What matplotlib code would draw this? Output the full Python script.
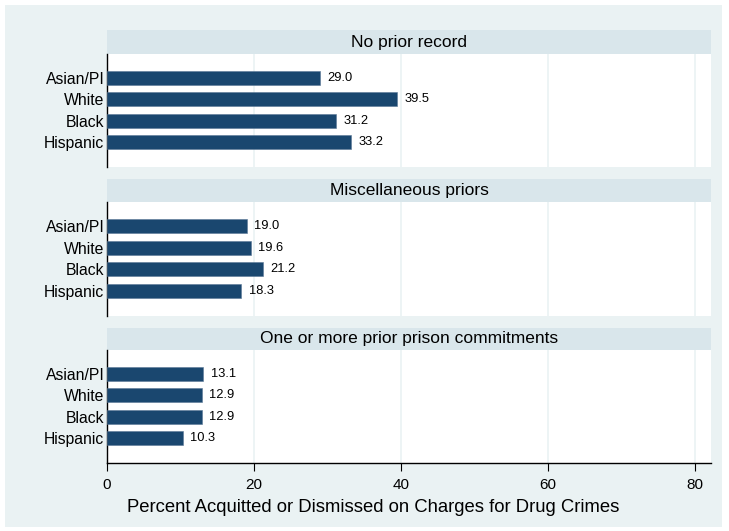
import numpy as np
import matplotlib.pyplot as plt
from matplotlib.patches import Rectangle

plt.rcParams["font.family"] = ["Liberation Sans", "DejaVu Sans"]

panels = ["No prior record", "Miscellaneous priors", "One or more prior prison commitments"]
groups = ["Asian/PI", "White", "Black", "Hispanic"]
no_prior = [29.0, 39.5, 31.2, 33.2]
misc_prior = [19.0, 19.6, 21.2, 18.3]
prison_prior = [13.1, 12.9, 12.9, 10.3]
values = [no_prior, misc_prior, prison_prior]

bg = "#EAF2F3"
strip = "#D9E6EB"
bar_col = "#1A476F"

W, H = 729, 531
fig = plt.figure(figsize=(W / 100, H / 100), dpi=100, facecolor="white")
fig.patches.append(Rectangle((5 / W, 4 / H), 717 / W, 522 / H, transform=fig.transFigure,
                             facecolor=bg, edgecolor="none", zorder=-10))

# pixel boxes: (strip_top, plot_top, plot_bottom)
boxes = [(30, 54, 167), (179, 202, 316), (328, 350, 463)]
left, right = 107, 711

for i, (st, pt, pb) in enumerate(boxes):
    # strip header
    sax = fig.add_axes([left / W, 1 - pt / H, (right - left) / W, (pt - st) / H])
    sax.set_facecolor(strip)
    for s in sax.spines.values():
        s.set_visible(False)
    sax.set_xticks([])
    sax.set_yticks([])
    sax.text(0.5, 0.5, panels[i], ha="center", va="center", fontsize=12.5, color="black",
             transform=sax.transAxes)

    ax = fig.add_axes([left / W, 1 - pb / H, (right - left) / W, (pb - pt) / H])
    ax.set_facecolor("white")
    y = np.arange(len(groups))
    ax.barh(y, values[i], height=0.66, color=bar_col, edgecolor="#5a7896", linewidth=0.4, zorder=3)
    for yy, v in zip(y, values[i]):
        ax.text(v + 1.0, yy, f"{v:.1f}", va="center", ha="left", fontsize=9.3, color="black")
    ax.set_xlim(0, 82.2)
    ax.set_ylim(3 + 1.17, -1.13)
    ax.set_xticks([0, 20, 40, 60, 80])
    ax.grid(axis="x", color=bg, linewidth=1.2, zorder=0)
    ax.set_yticks(y)
    ax.set_yticklabels(groups, fontsize=11.3)
    ax.tick_params(axis="y", length=0, pad=2)
    for s in ["top", "right"]:
        ax.spines[s].set_visible(False)
    ax.spines["left"].set_color("black")
    ax.spines["left"].set_linewidth(1.0)
    if i < 2:
        ax.spines["bottom"].set_visible(False)
        ax.tick_params(axis="x", length=0, labelbottom=False)
    else:
        ax.spines["bottom"].set_color("black")
        ax.spines["bottom"].set_linewidth(1.0)
        ax.tick_params(axis="x", length=6, width=0.8, labelsize=11, pad=5)

fig.text(373 / W, 1 - 507 / H, "Percent Acquitted or Dismissed on Charges for Drug Crimes",
         ha="center", va="center", fontsize=13.3)

fig.savefig("out.png", dpi=100, facecolor="white")
